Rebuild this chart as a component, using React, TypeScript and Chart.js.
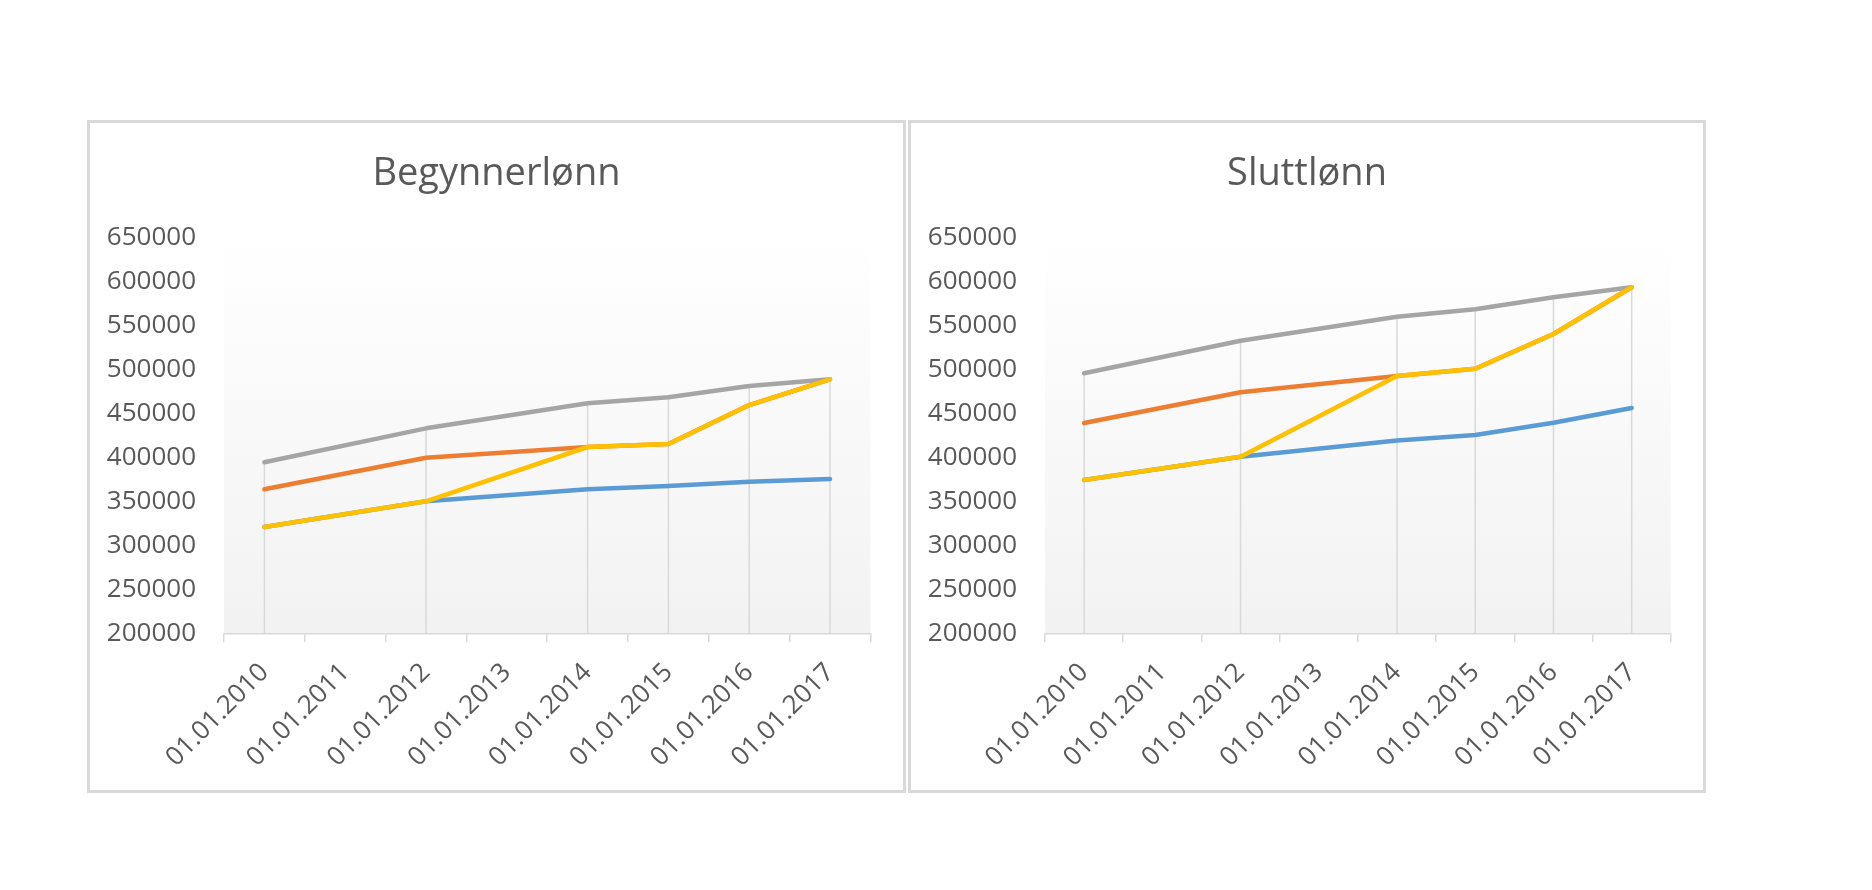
import React, { useEffect, useRef } from 'react';
import { Chart, registerables } from 'chart.js';

Chart.register(...registerables);

// ---------- data ----------
const categories = [
  '01.01.2010',
  '01.01.2011',
  '01.01.2012',
  '01.01.2013',
  '01.01.2014',
  '01.01.2015',
  '01.01.2016',
  '01.01.2017',
];

const yTickValues = [200000, 250000, 300000, 350000, 400000, 450000, 500000, 550000, 600000, 650000];

const seriesNames = ['Serie 1', 'Serie 2', 'Serie 3', 'Serie 4'];
const seriesColors = ['#5B9BD5', '#ED7D31', '#A5A5A5', '#FFC000'];

// Begynnerlønn
const startBlue = [320800, null, 350000, null, 363600, 367400, 372300, 375300];
const startOrange = [363600, null, 399500, null, 411700, 415200, 459400, 488600];
const startGray = [394300, null, 432900, null, 461400, 468200, 481000, 488600];
const startYellow = [320800, null, 350000, null, 411700, 415200, 459400, 488600];

// Sluttlønn
const endBlue = [374200, null, 400700, null, 419000, 425300, 439300, 456000];
const endOrange = [439000, null, 473900, null, 492400, 500700, 540100, 593200];
const endGray = [495500, null, 532500, null, 559800, 568200, 581800, 593200];
const endYellow = [374200, null, 400700, null, 492400, 500700, 540100, 593200];

// ---------- styling ----------
const FONT = '"Open Sans", "Noto Sans", sans-serif';
const TEXT = '#595959';
const LINE_GREY = '#D9D9D9';

const plotBackground = {
  id: 'plotBackground',
  beforeDraw(chart: any) {
    const { ctx, chartArea: a } = chart;
    if (!a) return;
    const g = ctx.createLinearGradient(0, a.top, 0, a.bottom);
    g.addColorStop(0, '#FFFFFF');
    g.addColorStop(1, '#F2F2F2');
    ctx.save();
    ctx.fillStyle = g;
    ctx.fillRect(a.left, a.top, a.right - a.left, a.bottom - a.top);
    ctx.restore();
  },
};

const dropLines = {
  id: 'dropLines',
  beforeDatasetsDraw(chart: any) {
    const { ctx, chartArea, scales } = chart;
    const xs = scales.x;
    const ys = scales.y;
    ctx.save();
    ctx.strokeStyle = LINE_GREY;
    ctx.lineWidth = 1.5;
    (chart.data.labels as string[]).forEach((_: string, i: number) => {
      let max: number | null = null;
      chart.data.datasets.forEach((ds: any) => {
        const v = ds.data[i];
        if (v != null && (max === null || v > max)) max = v;
      });
      if (max === null) return;
      const px = xs.getPixelForValue(i);
      ctx.beginPath();
      ctx.moveTo(px, ys.getPixelForValue(max));
      ctx.lineTo(px, chartArea.bottom);
      ctx.stroke();
    });
    ctx.restore();
  },
};

type Props = {
  title: string;
  series: (number | null)[][];
  width: number;
  height: number;
  rightGap: number;
};

function SalaryChart({ title, series, width, height, rightGap }: Props) {
  const ref = useRef<HTMLCanvasElement>(null);

  useEffect(() => {
    const chart = new Chart(ref.current as HTMLCanvasElement, {
      type: 'line',
      data: {
        labels: categories,
        datasets: series.map((d, i) => ({
          label: seriesNames[i],
          data: d,
          yAxisID: 'y',
          order: series.length - 1 - i,
          borderColor: seriesColors[i],
          backgroundColor: seriesColors[i],
          borderWidth: 4.5,
          pointRadius: 0,
          pointHoverRadius: 0,
          tension: 0,
          spanGaps: true,
          borderJoinStyle: 'round',
          borderCapStyle: 'round',
          fill: false,
        })),
      },
      options: {
        animation: false,
        responsive: false,
        events: [],
        layout: { padding: 0 },
        plugins: {
          legend: { display: false },
          tooltip: { enabled: false },
          title: {
            display: true,
            text: title,
            color: TEXT,
            font: { family: FONT, size: 38, weight: 'normal' },
            padding: { top: 28, bottom: 40.7 },
          },
        },
        scales: {
          x: {
            type: 'category',
            offset: true,
            grid: {
              display: true,
              drawOnChartArea: false,
              drawTicks: true,
              tickLength: 9,
              offset: true,
              color: LINE_GREY,
              lineWidth: 1.5,
            },
            border: { display: true, color: LINE_GREY, width: 1.5 },
            ticks: {
              autoSkip: false,
              minRotation: 45,
              maxRotation: 45,
              padding: 15,
              color: TEXT,
              font: { family: FONT, size: 26 },
            },
            afterFit(scale: any) {
              scale.height = 156.7;
            },
          },
          y: {
            type: 'linear',
            position: 'left',
            min: yTickValues[0],
            max: yTickValues[yTickValues.length - 1],
            grid: { display: false, drawTicks: false },
            border: { display: false },
            ticks: {
              stepSize: yTickValues[1] - yTickValues[0],
              padding: 28,
              color: TEXT,
              font: { family: FONT, size: 26 },
              callback: (v: any) => String(v),
            },
            afterFit(scale: any) {
              scale.width = 134;
            },
          },
          // empty right-hand spacer so the plot ends where Excel's does
          yRight: {
            type: 'linear',
            position: 'right',
            min: yTickValues[0],
            max: yTickValues[yTickValues.length - 1],
            grid: { display: false, drawTicks: false },
            border: { display: false },
            ticks: { display: false },
            afterFit(scale: any) {
              scale.width = rightGap;
            },
          },
        },
      },
      plugins: [plotBackground, dropLines],
    } as any);
    return () => chart.destroy();
  }, []);

  return (
    <canvas
      ref={ref}
      width={width}
      height={height}
      style={{ display: 'block', width: width + 'px', height: height + 'px' }}
    />
  );
}

const panelStyle = (left: number, width: number): React.CSSProperties => ({
  position: 'absolute',
  left,
  top: 120,
  width,
  height: 673,
  boxSizing: 'border-box',
  border: '3px solid #D9D9D9',
  background: '#FFFFFF',
});

export default function App() {
  return (
    <div
      style={{
        position: 'absolute',
        left: 0,
        top: 0,
        width: 1872,
        height: 890,
        background: '#FFFFFF',
        overflow: 'hidden',
      }}
    >
      <div style={panelStyle(87, 819)}>
        <SalaryChart
          title="Begynnerlønn"
          series={[startBlue, startOrange, startGray, startYellow]}
          width={813}
          height={667}
          rightGap={32.6}
        />
      </div>
      <div style={panelStyle(908, 798)}>
        <SalaryChart
          title="Sluttlønn"
          series={[endBlue, endOrange, endGray, endYellow]}
          width={792}
          height={667}
          rightGap={32.2}
        />
      </div>
    </div>
  );
}
